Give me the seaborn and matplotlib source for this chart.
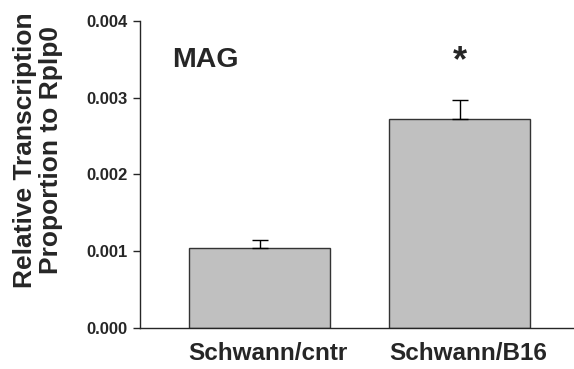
import matplotlib
matplotlib.use("Agg")
import numpy as np
import pandas as pd
import seaborn as sns
import matplotlib.transforms as mtransforms
from matplotlib import pyplot as plt

groups = ["Schwann/cntr", "Schwann/B16"]
means = [0.00104, 0.00272]
sems = [0.00010, 0.00025]

sns.set_style("ticks")
plt.rcParams["font.family"] = ["Liberation Sans", "DejaVu Sans"]
plt.rcParams["font.weight"] = "bold"

df = pd.DataFrame({"group": groups, "value": means})

fig = plt.figure(figsize=(5.74, 3.69), dpi=100)
ax = fig.add_axes([0.2439, 0.111, 0.755, 0.833])

sns.barplot(x="group", y="value", data=df, color="#c0c0c0", width=0.705,
            edgecolor="#333333", linewidth=1.0, saturation=1, errorbar=None, ax=ax)
ax.errorbar(np.arange(len(groups)), means, yerr=[np.zeros(len(sems)), sems],
            fmt="none", ecolor="black", elinewidth=1.0, capsize=5.5, capthick=1.0)

ax.set_xlim(-0.5975, 1.5675)
ax.set_ylim(0, 0.004)
ax.set_yticks([0, 0.001, 0.002, 0.003, 0.004])
ax.set_yticklabels(["0.000", "0.001", "0.002", "0.003", "0.004"], fontsize=12, fontweight="bold")
ax.tick_params(axis="y", length=5, width=1, direction="out", pad=4)
ax.tick_params(axis="x", length=0, pad=10, labelsize=17.5)
shift = mtransforms.ScaledTranslation(0.08, 0, fig.dpi_scale_trans)
for lbl in ax.get_xticklabels():
    lbl.set_fontweight("bold")
    lbl.set_transform(lbl.get_transform() + shift)

ax.set_xlabel("")
ax.set_ylabel("Relative Transcription\nProportion to Rplp0", fontsize=19,
              fontweight="bold", linespacing=1.12)
ax.yaxis.set_label_coords(-0.178, 0.58)

for side in ["top", "right"]:
    ax.spines[side].set_visible(False)
ax.spines["left"].set_linewidth(1.0)
ax.spines["bottom"].set_linewidth(1.0)

ax.text(0.074, 0.872, "MAG", transform=ax.transAxes, fontsize=20.5, fontweight="bold",
        ha="left", va="center")
ax.text(1, 0.00347, "*", fontsize=26, fontweight="bold", ha="center", va="center")

fig.savefig("out.png", dpi=100)
